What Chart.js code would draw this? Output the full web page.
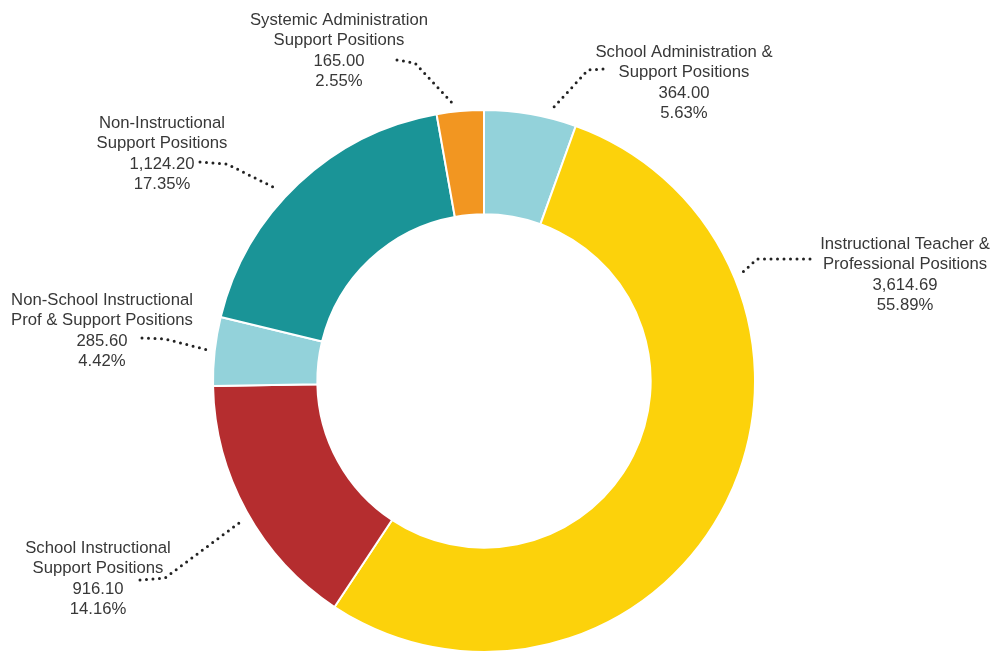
<!DOCTYPE html>
<html>
<head>
<meta charset="utf-8">
<script src="https://cdn.jsdelivr.net/npm/chart.js@4"></script>
<style>
  html, body { margin: 0; padding: 0; background: #fff; }
  #wrap { width: 993px; height: 654px; }
</style>
</head>
<body>
<div id="wrap"><canvas id="chartPostes" width="993" height="654"></canvas></div>
<script>
// donut des postes - ordre horaire en partant du haut
const categories = [
  ['School Administration &', 'Support Positions'],
  ['Instructional Teacher &', 'Professional Positions'],
  ['School Instructional', 'Support Positions'],
  ['Non-School Instructional', 'Prof & Support Positions'],
  ['Non-Instructional', 'Support Positions'],
  ['Systemic Administration', 'Support Positions'],
];
// valeurs imprimées sur les étiquettes
const valeurs      = [364.00, 3614.69, 916.10, 285.60, 1124.20, 165.00];
const pourcentages = ['5.63%', '55.89%', '14.16%', '4.42%', '17.35%', '2.55%'];
// parts telles que dessinées dans l'original (lues sur les angles, pas tout à fait = étiquettes)
const partsTracees = [5.5, 53.8, 15.4, 4.1, 18.4, 2.8];
const couleurs     = ['#93D2DA', '#FCD20B', '#B52D2F', '#93D2DA', '#1A9497', '#F29621'];

// placement des étiquettes et des pointillés (annotations, pas des données)
const etiquettes = [
  { x: 684, y: 52,  points: [[603, 69], [588, 70], [553, 108]] },
  { x: 905, y: 244, points: [[810, 259], [757, 259], [743, 272]] },
  { x: 98,  y: 548, points: [[140, 580], [165, 578], [243, 520]] },
  { x: 102, y: 300, points: [[142, 338], [165, 339], [208, 350]] },
  { x: 162, y: 123, points: [[200, 162], [227, 164], [273, 187]] },
  { x: 339, y: 20,  points: [[397, 60], [415, 63], [455, 106]] },
];

function formatValeur(v) {
  return v.toLocaleString('en-US', { minimumFractionDigits: 2, maximumFractionDigits: 2 });
}

const pluginEtiquettes = {
  id: 'etiquettes',
  afterDraw(chart) {
    const ctx = chart.ctx;
    ctx.save();
    etiquettes.forEach((et, i) => {
      // pointillés
      ctx.beginPath();
      et.points.forEach(([px, py], k) => k ? ctx.lineTo(px, py) : ctx.moveTo(px, py));
      ctx.setLineDash([0, 6.5]);
      ctx.lineCap = 'round';
      ctx.lineWidth = 3;
      ctx.strokeStyle = '#222';
      ctx.stroke();

      // texte
      const lignes = [...categories[i], formatValeur(valeurs[i]), pourcentages[i]];
      ctx.setLineDash([]);
      ctx.fillStyle = '#383838';
      ctx.font = '16.7px "Liberation Sans", Arial, sans-serif';
      ctx.textAlign = 'center';
      ctx.textBaseline = 'middle';
      lignes.forEach((l, k) => ctx.fillText(l, et.x, et.y + k * 20.6));
    });
    ctx.restore();
  }
};

new Chart(document.getElementById('chartPostes'), {
  type: 'doughnut',
  data: {
    labels: categories.map(c => c.join(' ')),
    datasets: [{
      data: partsTracees,
      backgroundColor: couleurs,
      borderColor: '#fff',
      borderWidth: 2,
    }],
  },
  options: {
    responsive: false,
    animation: false,
    cutout: '61.5%',
    layout: { padding: { top: 109, bottom: 1, left: 212, right: 237 } },
    plugins: {
      legend: { display: false },
      tooltip: { enabled: false },
    },
  },
  plugins: [pluginEtiquettes],
});
</script>
</body>
</html>
